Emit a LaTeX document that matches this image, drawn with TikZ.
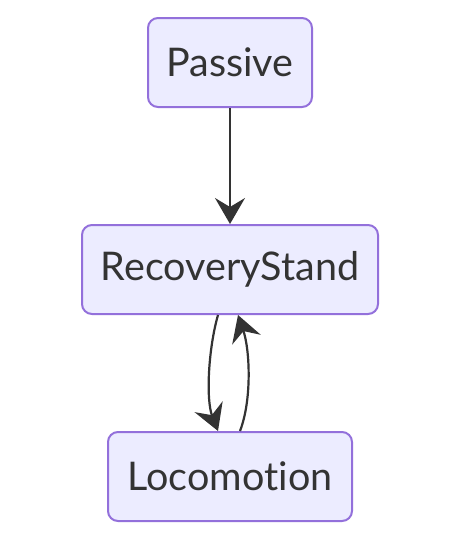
\documentclass[tikz,border=0pt]{standalone}
\usepackage{fontspec}
\setmainfont{Lato}[Ligatures={NoCommon,NoRare}]
\usetikzlibrary{arrows.meta}
\definecolor{nodefill}{HTML}{ECECFF}
\definecolor{nodeline}{HTML}{9370DB}
\definecolor{txt}{HTML}{333333}
\begin{document}
\begin{tikzpicture}[x=1pt,y=-1pt,
  state/.style={draw=nodeline, fill=nodefill, line width=2pt, rounded corners=10pt,
    minimum height=89pt, inner sep=0pt, text=txt, font=\fontsize{39.5}{42}\selectfont},
  conn/.style={draw=txt, line width=2.2pt, -{Stealth[length=26pt,width=30pt,inset=9pt]}}]
\useasboundingbox (0,0) rectangle (462,542);
\node[state, minimum width=164pt] (p) at (230,62.5) {Passive};
\node[state, minimum width=296pt] (r) at (230,269.5) {RecoveryStand};
\node[state, minimum width=244pt] (l) at (230,476.5) {Locomotion};
\draw[conn] (p.south) -- (r.north);
\draw[conn] ([xshift=-12pt]r.south) .. controls (208,350) and (206,400) .. ([xshift=-12pt]l.north);
\draw[conn] ([xshift=10pt]l.north) .. controls (252,400) and (250,350) .. ([xshift=8pt]r.south);
\end{tikzpicture}
\end{document}
